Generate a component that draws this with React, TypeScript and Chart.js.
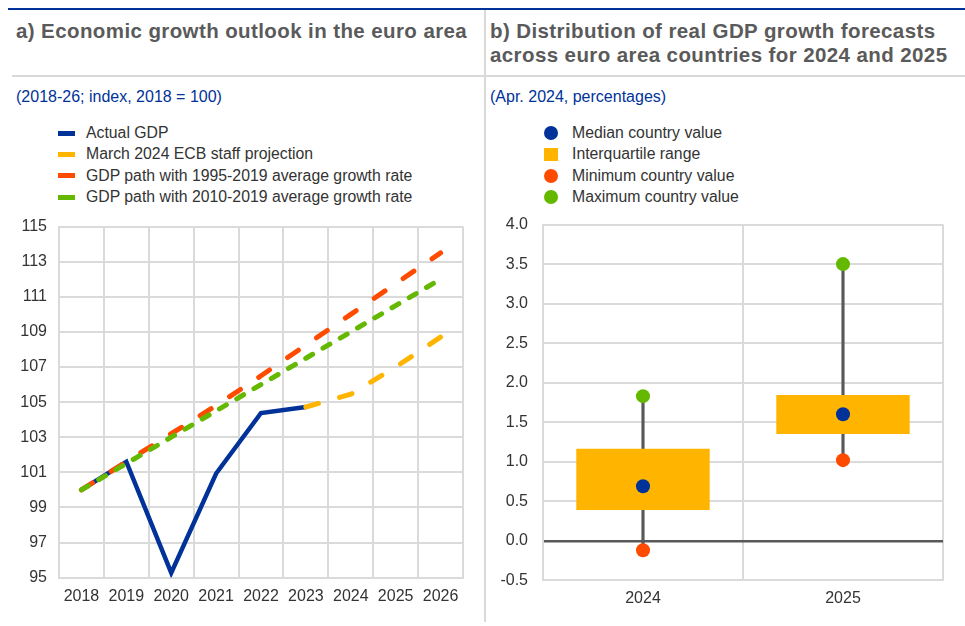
import React, { useEffect, useRef } from "react";
import { Chart, registerables } from "chart.js";

Chart.register(...registerables);

// ---------- Panel a data ----------
const years = ["2018", "2019", "2020", "2021", "2022", "2023", "2024", "2025", "2026"];
const actualGdp = [100, 101.6, 95.27, 100.93, 104.38, 104.72, null, null, null];
const ecbProjection = [null, null, null, null, null, 104.72, 105.45, 107.0, 108.7];
const path1995to2019 = [100, 101.6, 103.2, 104.8, 106.5, 108.25, 110.0, 111.75, 113.5];
const path2010to2019 = [100, 101.5, 103.0, 104.5, 106.0, 107.5, 109.0, 110.5, 112.0];
const leftLegendLabels = [
  "Actual GDP",
  "March 2024 ECB staff projection",
  "GDP path with 1995-2019 average growth rate",
  "GDP path with 2010-2019 average growth rate",
];

// ---------- Panel b data ----------
const forecastYears = ["2024", "2025"];
const medianValues = [0.69, 1.6];
const iqrLow = [0.39, 1.35];
const iqrHigh = [1.165, 1.845];
const minValues = [-0.12, 1.02];
const maxValues = [1.83, 3.5];
const rightLegendLabels = [
  "Median country value",
  "Interquartile range",
  "Minimum country value",
  "Maximum country value",
];

const BLUE = "#003299";
const YELLOW = "#FFB400";
const RED = "#FF4B00";
const GREEN = "#65B800";
const GRID = "#dadada";
const DARK = "#595959";
const TEXT = "#333333";
const FONT = "'Liberation Sans', Arial, sans-serif";

Chart.defaults.font.family = FONT;

function LeftChart() {
  const ref = useRef<HTMLCanvasElement | null>(null);
  useEffect(() => {
    if (!ref.current) return;
    const chart = new Chart(ref.current, {
      type: "line",
      data: {
        labels: years,
        datasets: [
          { label: leftLegendLabels[0], data: actualGdp, borderColor: BLUE, backgroundColor: BLUE, borderWidth: 4.5, pointRadius: 0, order: 4 },
          { label: leftLegendLabels[1], data: ecbProjection, borderColor: YELLOW, backgroundColor: YELLOW, borderWidth: 5, borderDash: [13, 22], borderCapStyle: "round", pointRadius: 0, order: 3 },
          { label: leftLegendLabels[2], data: path1995to2019, borderColor: RED, backgroundColor: RED, borderWidth: 5, borderDash: [13, 22], borderCapStyle: "round", pointRadius: 0, order: 2 },
          { label: leftLegendLabels[3], data: path2010to2019, borderColor: GREEN, backgroundColor: GREEN, borderWidth: 5, borderDash: [8, 12], borderCapStyle: "round", pointRadius: 0, order: 1 },
        ],
      },
      options: {
        responsive: false,
        animation: false,
        layout: { autoPadding: false, padding: { top: 0, right: 17, left: 0, bottom: 0 } },
        plugins: { legend: { display: false }, tooltip: { enabled: false } },
        scales: {
          x: {
            type: "category",
            offset: true,
            grid: { offset: true, color: GRID, lineWidth: 2, drawTicks: false },
            border: { color: GRID, width: 2 },
            ticks: { color: TEXT, font: { size: 16 }, padding: 9, maxRotation: 0 },
            afterFit: (s: any) => { s.height = 27.4; },
          },
          y: {
            min: 95,
            max: 115,
            ticks: { stepSize: 2, color: TEXT, font: { size: 16 }, padding: 12 },
            grid: { color: GRID, lineWidth: 2, drawTicks: false },
            border: { color: GRID, width: 2 },
            afterFit: (s: any) => { s.width = 59; },
          },
        },
      },
    } as any);
    return () => chart.destroy();
  }, []);
  return <canvas ref={ref} width={480} height={400} style={{ display: "block" }} />;
}

function RightChart() {
  const ref = useRef<HTMLCanvasElement | null>(null);
  useEffect(() => {
    if (!ref.current) return;
    const iqr = iqrLow.map((lo, i) => [lo, iqrHigh[i]]);
    const whisker = minValues.map((lo, i) => [lo, maxValues[i]]);
    const chart = new Chart(ref.current, {
      type: "bar",
      data: {
        labels: forecastYears,
        datasets: [
          { type: "line", label: rightLegendLabels[0], data: medianValues, showLine: false, pointRadius: 7, pointBorderWidth: 0, pointBackgroundColor: BLUE, borderColor: BLUE, order: 0 },
          { type: "line", label: rightLegendLabels[2], data: minValues, showLine: false, pointRadius: 7, pointBorderWidth: 0, pointBackgroundColor: RED, borderColor: RED, order: 0 },
          { type: "line", label: rightLegendLabels[3], data: maxValues, showLine: false, pointRadius: 7, pointBorderWidth: 0, pointBackgroundColor: GREEN, borderColor: GREEN, order: 0 },
          { type: "bar", label: rightLegendLabels[1], data: iqr, backgroundColor: YELLOW, borderWidth: 0, barPercentage: 0.667, categoryPercentage: 1, grouped: false, order: 1 },
          { type: "bar", label: "range", data: whisker, backgroundColor: DARK, borderWidth: 0, barThickness: 2.5, grouped: false, order: 2 },
        ],
      },
      options: {
        responsive: false,
        animation: false,
        layout: { autoPadding: false, padding: { top: 0, right: 22, left: 0, bottom: 0 } },
        plugins: { legend: { display: false }, tooltip: { enabled: false } },
        scales: {
          x: {
            type: "category",
            offset: true,
            grid: { offset: true, color: GRID, lineWidth: 2, drawTicks: false },
            border: { color: GRID, width: 2 },
            ticks: { color: TEXT, font: { size: 16 }, padding: 9, maxRotation: 0 },
            afterFit: (s: any) => { s.height = 29.7; },
          },
          y: {
            min: -0.5,
            max: 4.0,
            ticks: { stepSize: 0.5, color: TEXT, font: { size: 16 }, padding: 15, callback: (v: any) => Number(v).toFixed(1) },
            grid: {
              color: (ctx: any) => (ctx.tick && ctx.tick.value === 0 ? DARK : GRID),
              lineWidth: (ctx: any) => (ctx.tick && ctx.tick.value === 0 ? 2.5 : 2),
              drawTicks: false,
            },
            border: { color: GRID, width: 2 },
            afterFit: (s: any) => { s.width = 58; },
          },
        },
      },
    } as any);
    return () => chart.destroy();
  }, []);
  return <canvas ref={ref} width={480} height={410} style={{ display: "block" }} />;
}

const leftLegendColors = [BLUE, YELLOW, RED, GREEN];
const rightLegendColors = [BLUE, YELLOW, RED, GREEN];
const legendRowsY = [133, 154, 175.5, 197];

export default function App() {
  const titleStyle: React.CSSProperties = {
    position: "absolute", fontFamily: FONT, fontWeight: "bold", fontSize: "20.5px", letterSpacing: "0.4px",
    lineHeight: "24px", color: "#5a5a5a", whiteSpace: "nowrap",
  };
  const subStyle: React.CSSProperties = {
    position: "absolute", fontFamily: FONT, fontSize: "16px", lineHeight: "18px", color: BLUE, whiteSpace: "nowrap",
  };
  const legendText: React.CSSProperties = {
    position: "absolute", fontFamily: FONT, fontSize: "15.8px", lineHeight: "20px", color: "#333333", whiteSpace: "nowrap",
  };
  return (
    <div style={{ position: "absolute", left: 0, top: 0, width: 965, height: 626, background: "#ffffff", overflow: "hidden" }}>
      <div style={{ position: "absolute", left: 8, top: 7.5, width: 957, height: 2.5, background: BLUE }} />
      <div style={{ position: "absolute", left: 12, top: 75, width: 953, height: 2, background: "#d9d9d9" }} />
      <div style={{ position: "absolute", left: 484, top: 10, width: 2, height: 612, background: "#d9d9d9" }} />

      <div style={{ ...titleStyle, left: 16, top: 19 }}>a) Economic growth outlook in the euro area</div>
      <div style={{ ...titleStyle, left: 490, top: 19 }}>
        b) Distribution of real GDP growth forecasts
        <br />
        across euro area countries for 2024 and 2025
      </div>

      <div style={{ ...subStyle, left: 16, top: 88 }}>(2018-26; index, 2018 = 100)</div>
      <div style={{ ...subStyle, left: 490, top: 88 }}>(Apr. 2024, percentages)</div>

      {leftLegendLabels.map((lab, i) => (
        <React.Fragment key={"l" + i}>
          <div style={{ position: "absolute", left: 58, top: legendRowsY[i] - 2.5, width: 17, height: 5, background: leftLegendColors[i] }} />
          <div style={{ ...legendText, left: 86, top: legendRowsY[i] - 10 }}>{lab}</div>
        </React.Fragment>
      ))}

      {rightLegendLabels.map((lab, i) => (
        <React.Fragment key={"r" + i}>
          <div
            style={{
              position: "absolute", left: 550.5 - 7, top: legendRowsY[i] - (i === 1 ? 6.5 : 7), width: 14,
              height: i === 1 ? 13 : 14, borderRadius: i === 1 ? 0 : 7, background: rightLegendColors[i],
            }}
          />
          <div style={{ ...legendText, left: 572, top: legendRowsY[i] - 10 }}>{lab}</div>
        </React.Fragment>
      ))}

      <div style={{ position: "absolute", left: 0, top: 205.4, width: 480, height: 400 }}>
        <LeftChart />
      </div>
      <div style={{ position: "absolute", left: 485, top: 200.4, width: 480, height: 410 }}>
        <RightChart />
      </div>
    </div>
  );
}
